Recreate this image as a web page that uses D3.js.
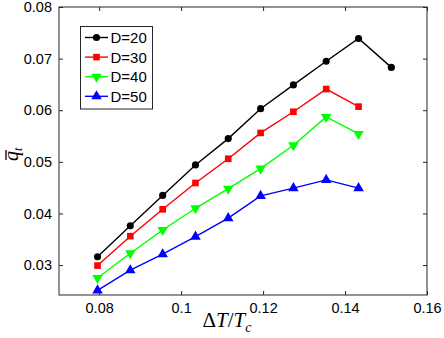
<!DOCTYPE html>
<html><head><meta charset="utf-8">
<script src="https://cdn.jsdelivr.net/npm/d3@7"></script>
<style>body{margin:0;background:#fff;}svg{display:block;}</style>
</head><body>
<svg id="c" width="444" height="338"></svg>
<script>
const xVals = [0.0796, 0.0876, 0.0955, 0.1035, 0.1115, 0.1194, 0.1274, 0.1354, 0.1433, 0.1513];
const d20 = [0.0316, 0.0376, 0.0435, 0.0494, 0.0545, 0.0603, 0.0649, 0.0695, 0.0739, 0.0683];
const d30 = [0.0299, 0.0356, 0.0408, 0.0459, 0.0506, 0.0556, 0.0597, 0.0641, 0.0607];
const d40 = [0.0275, 0.0323, 0.0368, 0.0410, 0.0448, 0.0487, 0.0532, 0.0587, 0.0554];
const d50 = [0.0251, 0.0290, 0.0321, 0.0355, 0.0391, 0.0434, 0.0449, 0.0465, 0.0449];
const seriesNames = ["D=20", "D=30", "D=40", "D=50"];
const seriesColors = ["#000000", "#ff0000", "#00ff00", "#0000ff"];
const xTicks = [0.08, 0.1, 0.12, 0.14, 0.16];
const yTicks = [0.03, 0.04, 0.05, 0.06, 0.07, 0.08];

const svg = d3.select("#c");
const L = 59, R = 427, T = 7, B = 295;
const x = d3.scaleLinear().domain([0.0702, 0.16]).range([L, R]);
const y = d3.scaleLinear().domain([0.0242, 0.08]).range([B, T]);

const series = [d20, d30, d40, d50];
const symbols = [d3.symbolCircle, d3.symbolSquare, d3.symbolTriangle, d3.symbolTriangle];
const symSize = [40, 44, 48, 48];
const symRot = [0, 0, 180, 0];

const fmt = d => String(d);
const tickFont = "'Liberation Sans', Arial, sans-serif";

// axes
const gx = svg.append("g").attr("transform", `translate(0,${B})`)
  .call(d3.axisBottom(x).tickValues(xTicks).tickFormat(fmt).tickSizeInner(-4).tickSizeOuter(0).tickPadding(8));
const gxt = svg.append("g").attr("transform", `translate(0,${T})`)
  .call(d3.axisTop(x).tickValues(xTicks).tickFormat("").tickSizeInner(-4).tickSizeOuter(0));
const gy = svg.append("g").attr("transform", `translate(${L},0)`)
  .call(d3.axisLeft(y).tickValues(yTicks).tickFormat(fmt).tickSizeInner(-4).tickSizeOuter(0).tickPadding(7));
const gyr = svg.append("g").attr("transform", `translate(${R},0)`)
  .call(d3.axisRight(y).tickValues(yTicks).tickFormat("").tickSizeInner(-4).tickSizeOuter(0));
[gx, gxt, gy, gyr].forEach(g => {
  g.select(".domain").remove();
  g.selectAll("line").attr("stroke", "#262626");
  g.selectAll("text").attr("fill", "#000").style("font-family", tickFont).style("font-size", "14.5px");
});
svg.append("rect").attr("x", L).attr("y", T).attr("width", R - L).attr("height", B - T)
  .attr("fill", "none").attr("stroke", "#262626").attr("stroke-width", 1);

// lines and markers
const line = d3.line().x((d, i) => x(xVals[i])).y(d => y(d));
series.forEach((s, k) => {
  svg.append("path").datum(s).attr("d", line).attr("fill", "none")
    .attr("stroke", seriesColors[k]).attr("stroke-width", 1.4);
  svg.selectAll(null).data(s).enter().append("path")
    .attr("d", d3.symbol().type(symbols[k]).size(symSize[k]))
    .attr("transform", (d, i) => `translate(${x(xVals[i])},${y(d)}) rotate(${symRot[k]})`)
    .attr("fill", seriesColors[k]);
});

// legend
const lg = svg.append("g");
lg.append("rect").attr("x", 80.5).attr("y", 26.5).attr("width", 72).attr("height", 82.5)
  .attr("fill", "#fff").attr("stroke", "#262626").attr("stroke-width", 1);
seriesNames.forEach((n, k) => {
  const yy = 37.5 + k * 19.6;
  lg.append("line").attr("x1", 85).attr("x2", 108).attr("y1", yy).attr("y2", yy)
    .attr("stroke", seriesColors[k]).attr("stroke-width", 1.4);
  lg.append("path").attr("d", d3.symbol().type(symbols[k]).size(symSize[k]))
    .attr("transform", `translate(96.5,${yy}) rotate(${symRot[k]})`).attr("fill", seriesColors[k]);
  lg.append("text").attr("x", 110.5).attr("y", yy + 5.5).text(n)
    .style("font-family", tickFont).style("font-size", "15px").attr("fill", "#000");
});

// x label
const xl = svg.append("text").attr("x", 227).attr("y", 327).attr("text-anchor", "middle")
  .style("font-family", "'Liberation Serif', 'Times New Roman', serif").style("font-size", "21px").attr("fill", "#000");
xl.append("tspan").text("Δ");
xl.append("tspan").style("font-style", "italic").text("T");
xl.append("tspan").text("/");
xl.append("tspan").style("font-style", "italic").text("T");
xl.append("tspan").style("font-style", "italic").style("font-size", "14px").attr("dy", 5).text("c");

// y label
const ylg = svg.append("g").attr("transform", "translate(18,161) rotate(-90)");
const yl = ylg.append("text").attr("x", 0).attr("y", 0)
  .style("font-family", "'Liberation Serif', 'Times New Roman', serif").style("font-size", "20px").attr("fill", "#000");
yl.append("tspan").style("font-style", "italic").text("q");
yl.append("tspan").style("font-style", "italic").style("font-size", "12px").attr("dy", 4).text("t");
ylg.append("line").attr("x1", 1).attr("x2", 11).attr("y1", -12).attr("y2", -12)
  .attr("stroke", "#000").attr("stroke-width", 1.3);
</script>
</body></html>
